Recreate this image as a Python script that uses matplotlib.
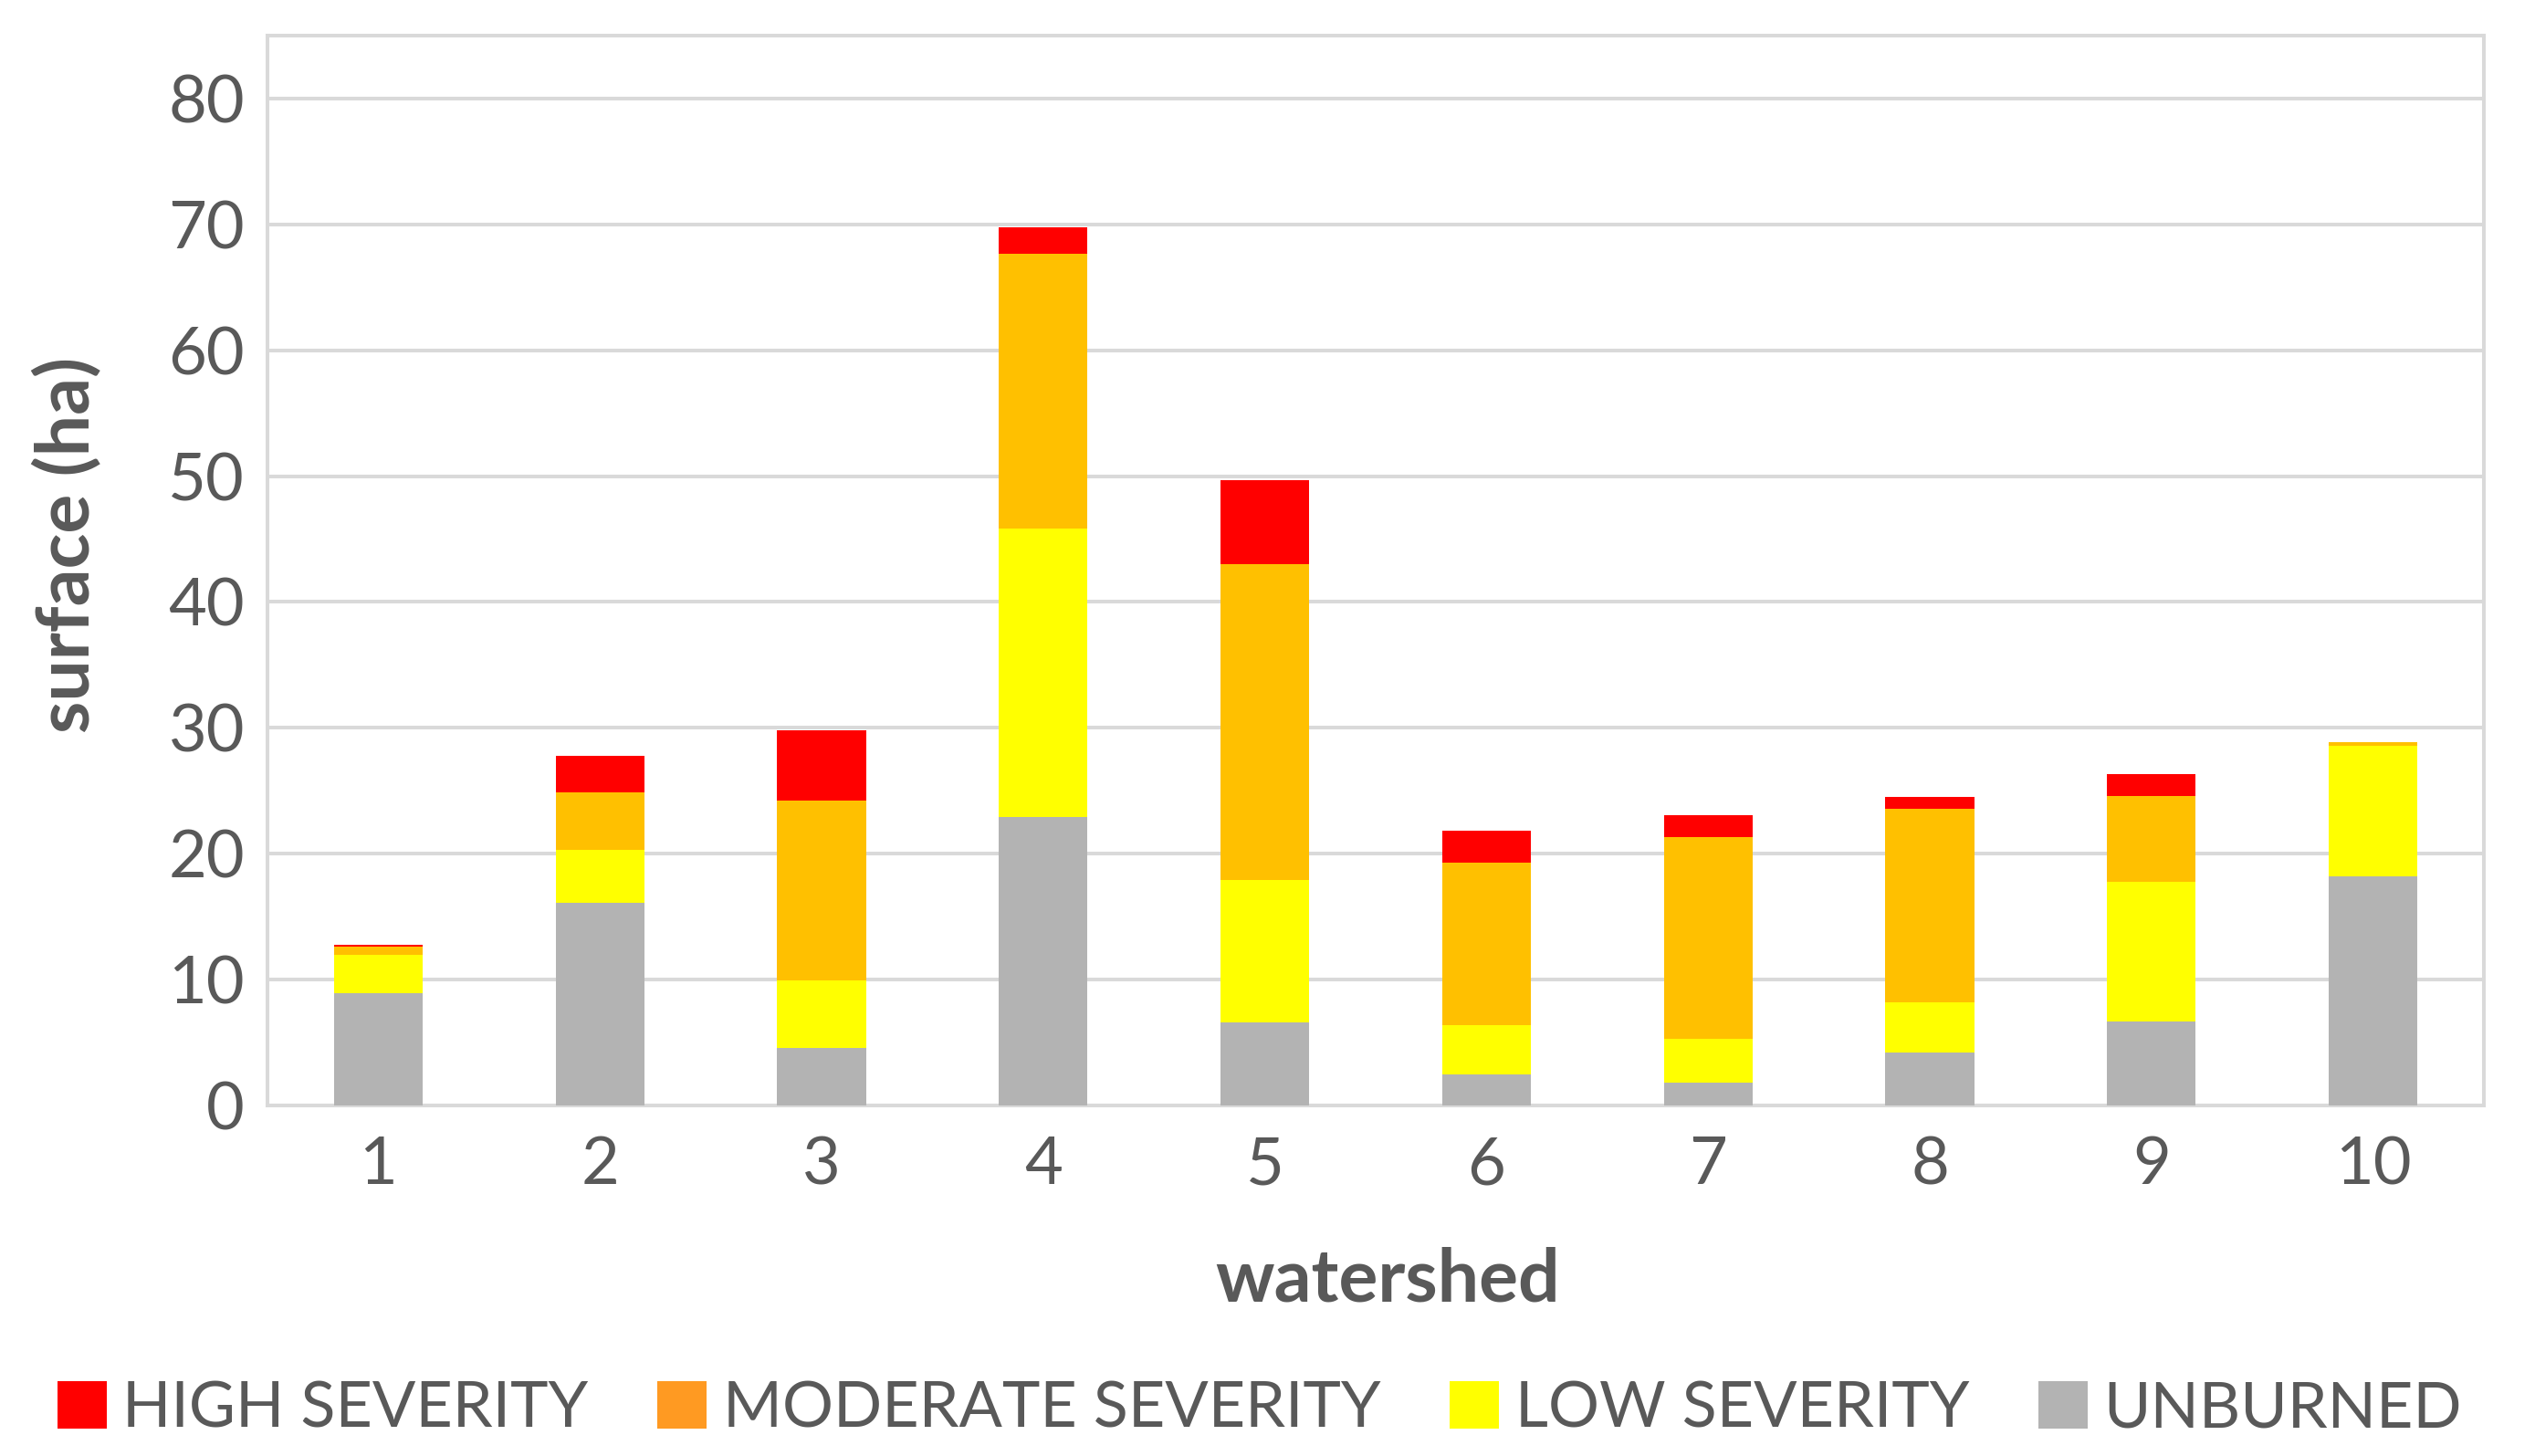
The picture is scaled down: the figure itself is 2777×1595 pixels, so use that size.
import matplotlib
matplotlib.use("Agg")
import matplotlib.pyplot as plt
from matplotlib.patches import Patch
import numpy as np

watersheds = ["1", "2", "3", "4", "5", "6", "7", "8", "9", "10"]
unburned = [8.9, 16.1, 4.6, 22.9, 6.6, 2.5, 1.8, 4.2, 6.7, 18.2]
low = [3.05, 4.2, 5.3, 22.9, 11.3, 3.9, 3.5, 4.0, 11.05, 10.35]
moderate = [0.7, 4.55, 14.3, 21.85, 25.1, 12.9, 16.0, 15.4, 6.85, 0.35]
high = [0.15, 2.95, 5.6, 2.1, 6.7, 2.5, 1.75, 0.9, 1.7, 0.0]
yticks = [0, 10, 20, 30, 40, 50, 60, 70, 80]
legend_labels = ["HIGH SEVERITY", "MODERATE SEVERITY", "LOW SEVERITY", "UNBURNED"]

C_GRAY = "#B3B3B3"
C_YEL = "#FFFF00"
C_GOLD = "#FFC000"
C_RED = "#FF0000"
C_LEG_ORANGE = "#FF9A22"
TXT = "#595959"
GRID = "#D9D9D9"

plt.rcParams["font.family"] = ["Lato", "DejaVu Sans"]

W, H = 2777, 1595
fig = plt.figure(figsize=(W / 100, H / 100), dpi=100)
ax = fig.add_axes([293 / W, 1 - 1211 / H, (2721 - 293) / W, (1211 - 39) / H])

x = np.arange(len(watersheds))
bw = 0.40
b1 = np.array(unburned)
b2 = b1 + np.array(low)
b3 = b2 + np.array(moderate)
ax.bar(x, unburned, bw, color=C_GRAY, zorder=3)
ax.bar(x, low, bw, bottom=b1, color=C_YEL, zorder=3)
ax.bar(x, moderate, bw, bottom=b2, color=C_GOLD, zorder=3)
ax.bar(x, high, bw, bottom=b3, color=C_RED, zorder=3)

ax.set_xlim(-0.5, len(watersheds) - 0.5)
ax.set_ylim(0, 85)
ax.set_yticks(yticks)
ax.set_yticklabels([str(v) for v in yticks])
ax.set_xticks(x)
ax.set_xticklabels(watersheds)
ax.tick_params(axis="both", length=0, labelsize=52, labelcolor=TXT)
ax.tick_params(axis="y", pad=18)
ax.tick_params(axis="x", pad=24)
ax.grid(axis="y", color=GRID, linewidth=2.9, zorder=0)
ax.set_axisbelow(True)
for s in ax.spines.values():
    s.set_color(GRID)
    s.set_linewidth(2.9)

fig.text(98 / W, 1 - 597 / H, "surface (ha)", rotation=90, rotation_mode="anchor",
         ha="center", va="baseline", fontsize=58, fontweight="bold", color=TXT)
fig.text(1520 / W, 1 - 1425 / H, "watershed", ha="center", va="baseline",
         fontsize=58, fontweight="bold", color=TXT)

handles = [Patch(facecolor=c, edgecolor="none") for c in [C_RED, C_LEG_ORANGE, C_YEL, C_GRAY]]
fig.legend(handles, legend_labels, loc="center", bbox_to_anchor=(1380 / W, 1 - 1544 / H),
           ncol=4, frameon=False, fontsize=50.5, labelcolor=TXT,
           handlelength=0.77, handleheight=0.77, handletextpad=0.25, columnspacing=1.08,
           borderpad=0, borderaxespad=0)

fig.savefig("out.png", dpi=100, facecolor="white")
